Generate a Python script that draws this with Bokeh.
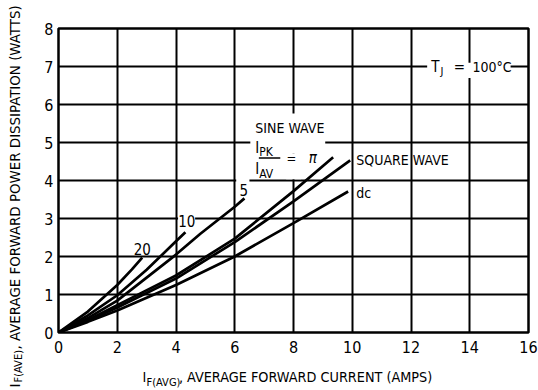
import math
from bokeh.plotting import figure
from bokeh.models import Label, FixedTicker, Range1d, Title
from bokeh.embed import file_html
from bokeh.resources import INLINE

# ---------------- data ----------------
x_ticks = [0, 2, 4, 6, 8, 10, 12, 14, 16]
y_ticks = [0, 1, 2, 3, 4, 5, 6, 7, 8]

# I_PK/I_AV = 20
x_r20 = [0, 1, 2, 2.5, 2.85]
y_r20 = [0, 0.55, 1.25, 1.66, 1.97]
# I_PK/I_AV = 10
x_r10 = [0, 1, 2, 3, 4, 4.32]
y_r10 = [0, 0.45, 0.98, 1.65, 2.40, 2.64]
# I_PK/I_AV = 5
x_r5 = [0, 1, 2, 4, 4.83, 6, 6.33]
y_r5 = [0, 0.38, 0.84, 2.05, 2.60, 3.31, 3.53]
# sine wave, I_PK/I_AV = pi
x_sine = [0, 1, 2, 4, 6, 8, 9.35]
y_sine = [0, 0.33, 0.72, 1.50, 2.47, 3.72, 4.61]
# square wave
x_sq = [0, 1, 2, 4, 6, 8, 9.93]
y_sq = [0, 0.31, 0.66, 1.42, 2.38, 3.45, 4.53]
# dc
x_dc = [0, 1, 2, 4, 6, 8, 9.86]
y_dc = [0, 0.28, 0.58, 1.25, 2.00, 2.88, 3.71]

FONT = "DejaVu Sans Condensed"
NB = "\u00a0"

# ---------------- figure ----------------
p = figure(width=538, height=390, x_range=Range1d(0, 16), y_range=Range1d(0, 8),
           output_backend="svg", toolbar_location=None,
           min_border_left=58, min_border_right=10, min_border_top=28, min_border_bottom=58)
p.background_fill_color = "white"
p.border_fill_color = "white"
p.outline_line_color = "black"
p.outline_line_width = 2.5

p.xaxis.ticker = FixedTicker(ticks=x_ticks)
p.yaxis.ticker = FixedTicker(ticks=y_ticks)
p.xgrid.ticker = FixedTicker(ticks=x_ticks)
p.ygrid.ticker = FixedTicker(ticks=y_ticks)
for g in (p.xgrid, p.ygrid):
    g.grid_line_color = "black"
    g.grid_line_width = 2
    g.grid_line_alpha = 1.0

for ax in (p.xaxis, p.yaxis):
    ax.axis_line_color = None
    ax.major_tick_line_color = None
    ax.minor_tick_line_color = None
    ax.major_tick_out = 0
    ax.minor_tick_out = 0
    ax.major_tick_in = 0
    ax.minor_tick_in = 0
    ax.major_label_text_font = FONT
    ax.major_label_text_font_size = "16px"
    ax.major_label_text_color = "black"
    ax.axis_label_text_font = FONT
    ax.axis_label_text_font_style = "normal"
    ax.axis_label_text_color = "black"
p.xaxis.major_label_standoff = 8
p.yaxis.major_label_standoff = 5

# x axis title (its subscript is added below as a Title annotation)
p.xaxis.axis_label = "I" + NB * 8 + ", AVERAGE FORWARD CURRENT (AMPS)" + NB * 3
p.xaxis.axis_label_text_font_size = "14.3px"
p.xaxis.axis_label_standoff = 13

# white masks where the printed labels interrupt the grid
mask_l = [6.53, 7.75, 4.07, 6.05, 12.55]
mask_r = [9.08, 8.25, 4.65, 6.50, 15.39]
mask_b = [4.72, 4.03, 2.80, 3.85, 6.70]
mask_t = [5.76, 4.72, 3.20, 4.15, 7.10]
p.quad(left=mask_l, right=mask_r, bottom=mask_b, top=mask_t,
       fill_color="white", line_color=None)

# curves
for xs, ys in ((x_r20, y_r20), (x_r10, y_r10), (x_r5, y_r5),
               (x_sine, y_sine), (x_sq, y_sq), (x_dc, y_dc)):
    p.line(xs, ys, line_color="black", line_width=2.7)


def lab(text, x, y, size=14, align="left", base="middle", style="normal"):
    p.add_layout(Label(x=x, y=y, text=text, text_font=FONT, text_font_size=f"{size}px",
                       text_align=align, text_baseline=base,
                       text_color="black", text_font_style=style))


# curve labels
lab("20", x_r20[-1], 2.2, 15, "center")
lab("10", 4.37, 2.93, 15, "center")
lab("5", 6.31, 3.74, 15, "center")
lab("SINE WAVE", 6.70, 5.37, 14)
lab("I", 6.70, 4.86, 15)
lab("PK", 6.83, 4.74, 12)
lab("I", 6.70, 4.29, 15)
lab("AV", 6.83, 4.18, 12)
p.segment(x0=[6.82], x1=[7.55], y0=[4.59], y1=[4.59], line_color="black", line_width=1.5)
lab("=", 7.93, 4.58, 13, "center")
lab("\u03c0", 8.66, 4.58, 15, "center", style="italic")
lab("SQUARE WAVE", 10.14, y_sq[-1], 14)
lab("dc", 10.14, 3.66, 14)

# T_J = 100 C
lab("T", 12.83, 7.0, 15, "center")
lab("J", 13.05, 6.86, 11, "center")
lab("=", 13.65, 7.0, 15, "center")
lab("100\u00b0C", 14.09, 7.0, 14)


# side-panel titles
def side_title(text, side, size, offset, standoff, valign):
    t = Title(text=text, align="left", offset=offset, vertical_align=valign,
              text_font=FONT, text_font_size=f"{size}px", text_font_style="normal",
              text_color="black")
    t.standoff = standoff
    p.add_layout(t, side)


# x title subscript
side_title("F(AVG)", "below", 11, 88, -24, "top")

# y title: spacer, main text, subscript
side_title(NB, "left", 1, 0, 15, "bottom")
side_title("I" + NB * 8 + ", AVERAGE FORWARD POWER DISSIPATION (WATTS)", "left", 14.9, -55, 0, "bottom")
side_title("F(AVE)", "left", 11, -50, -42, "bottom")

open("out.html", "w").write(file_html(p, INLINE))
